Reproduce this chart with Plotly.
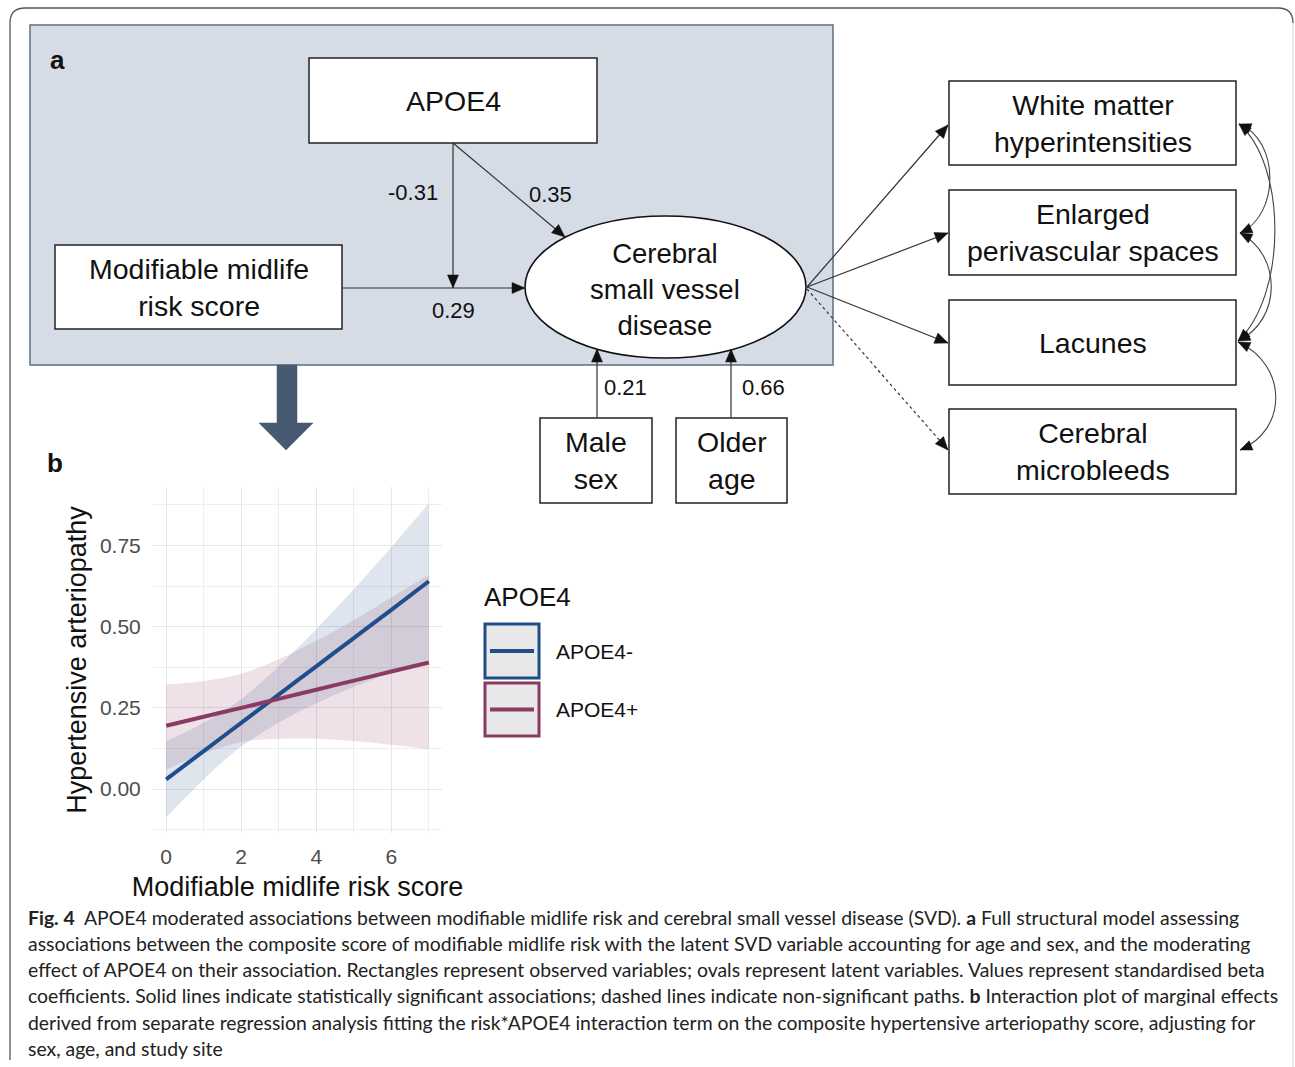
import plotly.graph_objects as go

# ---------------- data (panel b) ----------------
risk_score = [0, 1, 2, 3, 4, 5, 6, 7]
neg_fit = [0.03, 0.117, 0.204, 0.291, 0.378, 0.465, 0.552, 0.64]
neg_lower = [-0.087, 0.03, 0.131, 0.204, 0.264, 0.315, 0.359, 0.40]
neg_upper = [0.147, 0.204, 0.277, 0.378, 0.492, 0.615, 0.745, 0.88]
pos_fit = [0.195, 0.223, 0.25, 0.278, 0.306, 0.334, 0.362, 0.39]
pos_lower = [0.06, 0.11, 0.145, 0.155, 0.155, 0.148, 0.137, 0.123]
pos_upper = [0.322, 0.333, 0.355, 0.40, 0.457, 0.52, 0.59, 0.66]
group_names = ["APOE4-", "APOE4+"]
x_ticks = [0, 2, 4, 6]
y_ticks = [0.0, 0.25, 0.5, 0.75]

# ---------------- data (panel a) ----------------
node_labels = {
    "apoe": "APOE4",
    "risk": "Modifiable midlife<br>risk score",
    "svd": "Cerebral<br>small vessel<br>disease",
    "sex": "Male<br>sex",
    "age": "Older<br>age",
    "wmh": "White matter<br>hyperintensities",
    "epvs": "Enlarged<br>perivascular spaces",
    "lac": "Lacunes",
    "cmb": "Cerebral<br>microbleeds",
}
coef_labels = ["-0.31", "0.35", "0.29", "0.21", "0.66"]

caption_lines = [
    "<b>Fig. 4</b>  APOE4 moderated associations between modifiable midlife risk and cerebral small vessel disease (SVD). <b>a</b> Full structural model assessing",
    "associations between the composite score of modifiable midlife risk with the latent SVD variable accounting for age and sex, and the moderating",
    "effect of APOE4 on their association. Rectangles represent observed variables; ovals represent latent variables. Values represent standardised beta",
    "coefficients. Solid lines indicate statistically significant associations; dashed lines indicate non-significant paths. <b>b</b> Interaction plot of marginal effects",
    "derived from separate regression analysis fitting the risk*APOE4 interaction term on the composite hypertensive arteriopathy score, adjusting for",
    "sex, age, and study site",
]

W, H = 1295, 1067
BLUE = "#1f4e8b"
PURPLE = "#8a3b63"
FONT = "Liberation Sans, Arial, sans-serif"
CAPFONT = "Lato, Open Sans, sans-serif"


def X(x):
    return x / W


def Y(y):
    return 1 - y / H


shapes = []
annotations = []


def rect(x0, y0, x1, y1, fill="white", line="#222222", width=1.5, layer="above"):
    shapes.append(dict(type="rect", xref="paper", yref="paper",
                       x0=X(x0), x1=X(x1), y0=Y(y1), y1=Y(y0),
                       fillcolor=fill, line=dict(color=line, width=width), layer=layer))


def path(d_pts, color="#333333", width=1.2, dash=None, fill=None, closed=False):
    parts = []
    for cmd, pts in d_pts:
        coords = " ".join(f"{X(px):.6f},{Y(py):.6f}" for px, py in pts)
        parts.append(f"{cmd} {coords}")
    d = " ".join(parts) + (" Z" if closed else "")
    ln = dict(color=color, width=width)
    if dash:
        ln["dash"] = dash
    s = dict(type="path", xref="paper", yref="paper", path=d, line=ln, layer="above")
    if fill:
        s["fillcolor"] = fill
    shapes.append(s)


def head(tip, frm, L=13, w=5.5, color="#111111"):
    tx, ty = tip
    fx, fy = frm
    dx, dy = tx - fx, ty - fy
    n = (dx * dx + dy * dy) ** 0.5
    ux, uy = dx / n, dy / n
    bx, by = tx - L * ux, ty - L * uy
    nx, ny = -uy, ux
    path([("M", [(tx, ty)]), ("L", [(bx + w * nx, by + w * ny)]),
          ("L", [(bx - w * nx, by - w * ny)])], color=color, width=0.5, fill=color, closed=True)


def arrow(frm, tip, dash=None):
    path([("M", [frm]), ("L", [tip])], dash=dash)
    head(tip, frm)


def text(x, y, t, size=28, anchor="center", color="#111111", family=FONT, angle=0):
    annotations.append(dict(xref="paper", yref="paper", x=X(x), y=Y(y), text=t,
                            showarrow=False, xanchor=anchor, yanchor="middle",
                            font=dict(size=size, color=color, family=family),
                            textangle=angle, align="center"))


# outer rounded frame
path([("M", [(10, 1060)]), ("L", [(10, 23)]), ("Q", [(10, 8), (25, 8)]),
      ("L", [(1278, 8)]), ("Q", [(1293, 8), (1293, 23)])], color="#555555", width=1.3)
path([("M", [(1293, 23)]), ("L", [(1293, 1067)])], color="#cfcfcf", width=1)

# panel a background
rect(30, 25, 833, 365, fill="#d5dce6", line="#5e6e80", width=1.5)

# boxes
boxes = {
    "apoe": (309, 58, 597, 143),
    "risk": (55, 245, 342, 329),
    "sex": (540, 418, 652, 503),
    "age": (676, 418, 787, 503),
    "wmh": (949, 81, 1236, 165),
    "epvs": (949, 190, 1236, 275),
    "lac": (949, 300, 1236, 385),
    "cmb": (949, 409, 1236, 494),
}
for k, (x0, y0, x1, y1) in boxes.items():
    rect(x0, y0, x1, y1)
    text((x0 + x1) / 2, (y0 + y1) / 2, node_labels[k], size=28.5)

# latent ellipse
shapes.append(dict(type="circle", xref="paper", yref="paper",
                   x0=X(525), x1=X(806), y0=Y(358), y1=Y(216),
                   fillcolor="white", line=dict(color="#111111", width=1.6), layer="above"))
text(665, 289, node_labels["svd"], size=27.5)

# structural paths
arrow((453, 143), (453, 288))
arrow((453, 143), (565, 237))
arrow((342, 288), (525, 288))
arrow((597, 418), (597, 349))
arrow((731, 418), (731, 349))
arrow((807, 287), (948, 125))
arrow((807, 287), (948, 233))
arrow((807, 287), (948, 343))
arrow((807, 289), (948, 450), dash="3px,3px")

# residual covariances (curved double-headed)
curves = [
    ((1239, 124), (1280, 140), (1280, 215), (1240, 233)),
    ((1239, 124), (1287, 165), (1287, 295), (1238, 341)),
    ((1240, 233), (1282, 255), (1282, 320), (1238, 341)),
    ((1238, 342), (1288, 365), (1288, 430), (1240, 450)),
]
for p0, c1, c2, p1 in curves:
    path([("M", [p0]), ("C", [c1, c2, p1])], color="#444444", width=1.1)
    head(p0, c1, L=12, w=5)
    head(p1, c2, L=12, w=5)

# coefficient labels
coef_pos = [(413, 193), (550, 195), (453, 310), (625, 387), (764, 387)]
for (cx, cy), lab in zip(coef_pos, coef_labels):
    text(cx, cy, lab, size=22)

# panel letters
text(57, 60, "<b>a</b>", size=26)
text(55, 463, "<b>b</b>", size=26)

# big arrow from a to b
path([("M", [(277, 365)]), ("L", [(297, 365)]), ("L", [(297, 423)]), ("L", [(313, 423)]),
      ("L", [(286, 450)]), ("L", [(259, 423)]), ("L", [(277, 423)])],
     color="#475a72", width=0.5, fill="#475a72", closed=True)

# legend (manual, ggplot style)
text(527, 597, "APOE4", size=26)
for (y0, y1), col, name in zip([(623, 679), (682, 737)], [BLUE, PURPLE], group_names):
    rect(485, y0 + 1, 539, y1 - 1, fill="#e8e8e8", line=col, width=3)
    ym = (y0 + y1) / 2
    path([("M", [(490, ym)]), ("L", [(534, ym)])], color=col, width=4)
    text(554, ym, name, size=21, anchor="left")

# caption
for i, line in enumerate(caption_lines):
    text(26, 917 + i * 26.3, line, size=19.4, anchor="left", family=CAPFONT, color="#222222")

# ---------------- panel b traces ----------------
fig = go.Figure()
for lo, up, col in [(neg_lower, neg_upper, BLUE), (pos_lower, pos_upper, PURPLE)]:
    r, g, b = int(col[1:3], 16), int(col[3:5], 16), int(col[5:7], 16)
    fig.add_trace(go.Scatter(x=risk_score, y=lo, mode="lines", line=dict(width=0, shape="spline"),
                             showlegend=False, hoverinfo="skip"))
    fig.add_trace(go.Scatter(x=risk_score, y=up, mode="lines", line=dict(width=0, shape="spline"),
                             fill="tonexty", fillcolor=f"rgba({r},{g},{b},0.15)",
                             showlegend=False, hoverinfo="skip"))
for fit, col, name in [(neg_fit, BLUE, group_names[0]), (pos_fit, PURPLE, group_names[1])]:
    fig.add_trace(go.Scatter(x=risk_score, y=fit, mode="lines", name=name,
                             line=dict(color=col, width=4, shape="spline"), showlegend=False))

fig.update_layout(
    width=W, height=H, margin=dict(l=0, r=0, t=0, b=0),
    paper_bgcolor="white", plot_bgcolor="white",
    shapes=shapes, annotations=annotations, showlegend=False,
    xaxis=dict(domain=[X(153), X(442)], range=[-0.35, 7.35], tickvals=x_ticks,
               showgrid=True, gridcolor="#e6e6e6", gridwidth=1.4, zeroline=False, showline=False,
               minor=dict(dtick=1, tick0=0, showgrid=True, gridcolor="#eeeeee", gridwidth=1),
               ticks="outside", ticklen=5, tickcolor="rgba(0,0,0,0)",
               tickfont=dict(size=21, color="#4d4d4d", family=FONT),
               title=dict(text="Modifiable midlife risk score", standoff=9,
                          font=dict(size=27, color="#111111", family=FONT))),
    yaxis=dict(domain=[Y(833), Y(487)], range=[-0.135, 0.93], tickvals=y_ticks,
               tickformat=".2f",
               showgrid=True, gridcolor="#e6e6e6", gridwidth=1.4, zeroline=False, showline=False,
               minor=dict(dtick=0.125, tick0=0, showgrid=True, gridcolor="#eeeeee", gridwidth=1),
               ticks="outside", ticklen=7, tickcolor="rgba(0,0,0,0)",
               tickfont=dict(size=21, color="#4d4d4d", family=FONT),
               title=dict(text="Hypertensive arteriopathy", standoff=5,
                          font=dict(size=27, color="#111111", family=FONT))),
)

fig.write_html("out.html", config={"displayModeBar": False},
               post_script="document.body.style.margin='0';document.body.style.overflow='hidden';")
